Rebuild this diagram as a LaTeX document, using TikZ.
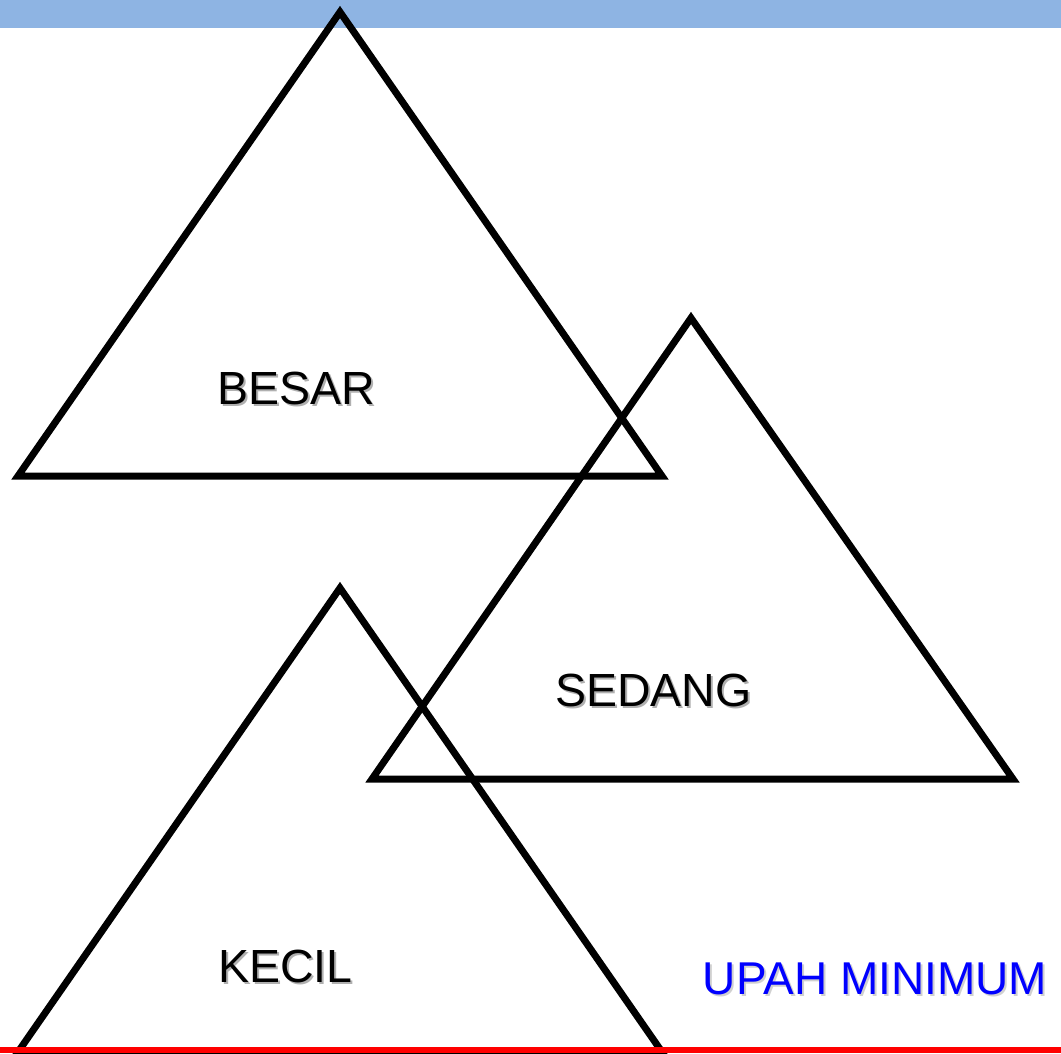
\documentclass[tikz,border=0pt]{standalone}
\usepackage{fontspec}
\setmainfont{Liberation Sans}
\definecolor{barblue}{HTML}{8EB4E3}
\definecolor{shadowgray}{HTML}{B0B0B0}
\tikzset{
  tri/.style={draw=black, line width=7pt, line join=miter},
  lbl/.style={font=\fontsize{46.5}{55}\selectfont, text=black, inner sep=0pt, anchor=center},
  shd/.style={font=\fontsize{46.5}{55}\selectfont, text=shadowgray, inner sep=0pt, anchor=center},
}
\begin{document}
\begin{tikzpicture}[x=1pt,y=-1pt]
\useasboundingbox (0,0) rectangle (1061,1053);
\begin{scope}
\clip (0,0) rectangle (1061,1053);
\fill[white] (0,0) rectangle (1061,1053);
\fill[barblue] (0,0) rectangle (1061,28);
% triangles
\draw[tri] (340,12) -- (662,476) -- (18,476) -- cycle;
\draw[tri] (691,318) -- (1013,779) -- (372,779) -- cycle;
\draw[tri] (340,588) -- (662,1052) -- (18,1052) -- cycle;
% labels with shadow
\node[shd] at (298.5,390) {BESAR};
\node[lbl] (besar) at (296.5,388) {BESAR};
\node[shd] at (655.5,692.5) {SEDANG};
\node[lbl] (sedang) at (653.5,690.5) {SEDANG};
\node[shd] at (287.5,968) {KECIL};
\node[lbl] (kecil) at (285.5,966) {KECIL};
\node[font=\fontsize{46}{55}\selectfont, text=shadowgray!60, inner sep=0pt] at (877,981) {UPAH MINIMUM};
\node[font=\fontsize{46}{55}\selectfont, text=blue, inner sep=0pt] (upah) at (875,979) {UPAH MINIMUM};
% bottom red line
\fill[red] (0,1047) rectangle (1061,1053);
\end{scope}
\end{tikzpicture}
\end{document}
